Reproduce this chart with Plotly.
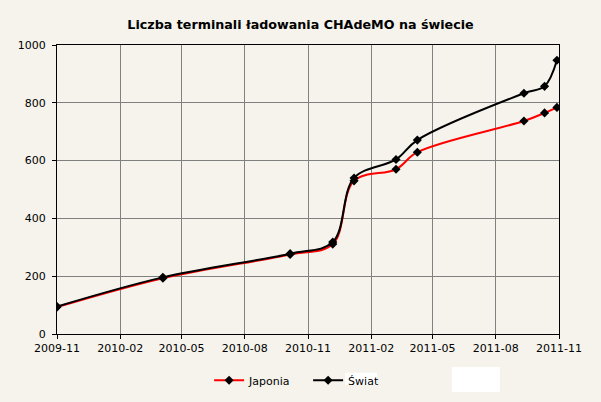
import plotly.graph_objects as go

# ---- data ----
dates = ["2009-11-01", "2010-04-04", "2010-10-06", "2010-12-07", "2011-01-07",
         "2011-03-09", "2011-04-09", "2011-09-11", "2011-10-11", "2011-10-29"]
japonia = [93, 193, 275, 311, 530, 570, 629, 737, 765, 784]
swiat = [95, 196, 278, 318, 540, 604, 671, 833, 857, 947]
series_names = ["Japonia", "Świat"]
title_text = "Liczba terminali ładowania CHAdeMO na świecie"

BG = "#F5F3EC"
FONT = "DejaVu Sans"

fig = go.Figure()
fig.add_trace(go.Scatter(
    x=dates, y=japonia, name=series_names[0], mode="lines+markers",
    line=dict(color="#FF0000", width=2, shape="spline", smoothing=1),
    marker=dict(symbol="diamond", size=7, color="black"),
))
fig.add_trace(go.Scatter(
    x=dates, y=swiat, name=series_names[1], mode="lines+markers",
    line=dict(color="black", width=2, shape="spline", smoothing=1),
    marker=dict(symbol="diamond", size=7, color="black"),
))

fig.update_layout(
    width=601, height=402,
    margin=dict(l=57, r=42, t=45, b=68, autoexpand=False),
    paper_bgcolor=BG, plot_bgcolor=BG,
    font=dict(family=FONT, size=11, color="black"),
    title=dict(text=title_text, x=0.5, xanchor="center", y=0.938, yanchor="middle",
               font=dict(family=FONT, size=12.7, color="black", weight="bold")),
    showlegend=True,
    legend=dict(orientation="h", x=0.303, xanchor="left", y=-0.16, yanchor="middle",
                font=dict(family=FONT, size=11, color="black"),
                entrywidth=54, entrywidthmode="pixels",
                bgcolor="rgba(0,0,0,0)"),
    xaxis=dict(type="date", range=["2009-11-01", "2011-11-01"], dtick="M3",
               tick0="2009-11-01", tickformat="%Y-%m", showgrid=True,
               gridcolor="#808080", gridwidth=1, showline=True, linecolor="black",
               linewidth=1, mirror=True, ticks="outside", ticklen=4,
               tickcolor="black", zeroline=False, ticklabelstandoff=0,
               automargin=False),
    yaxis=dict(range=[0, 1000], dtick=200, showgrid=True, gridcolor="#808080",
               gridwidth=1, showline=True, linecolor="black", linewidth=1,
               mirror=True, ticks="outside", ticklen=4, tickcolor="black",
               zeroline=False, ticklabelstandoff=4, automargin=False),
    shapes=[
        dict(type="rect", xref="paper", yref="paper", x0=0.7865, x1=0.882,
             y0=-0.2007, y1=-0.114, fillcolor="white", line=dict(width=0),
             layer="above"),
        dict(type="rect", xref="paper", yref="paper", x0=0.5736, x1=0.6373,
             y0=-0.1765, y1=-0.1339, fillcolor="white", line=dict(width=0),
             layer="above"),
    ],
)

fig.write_html("out.html")
